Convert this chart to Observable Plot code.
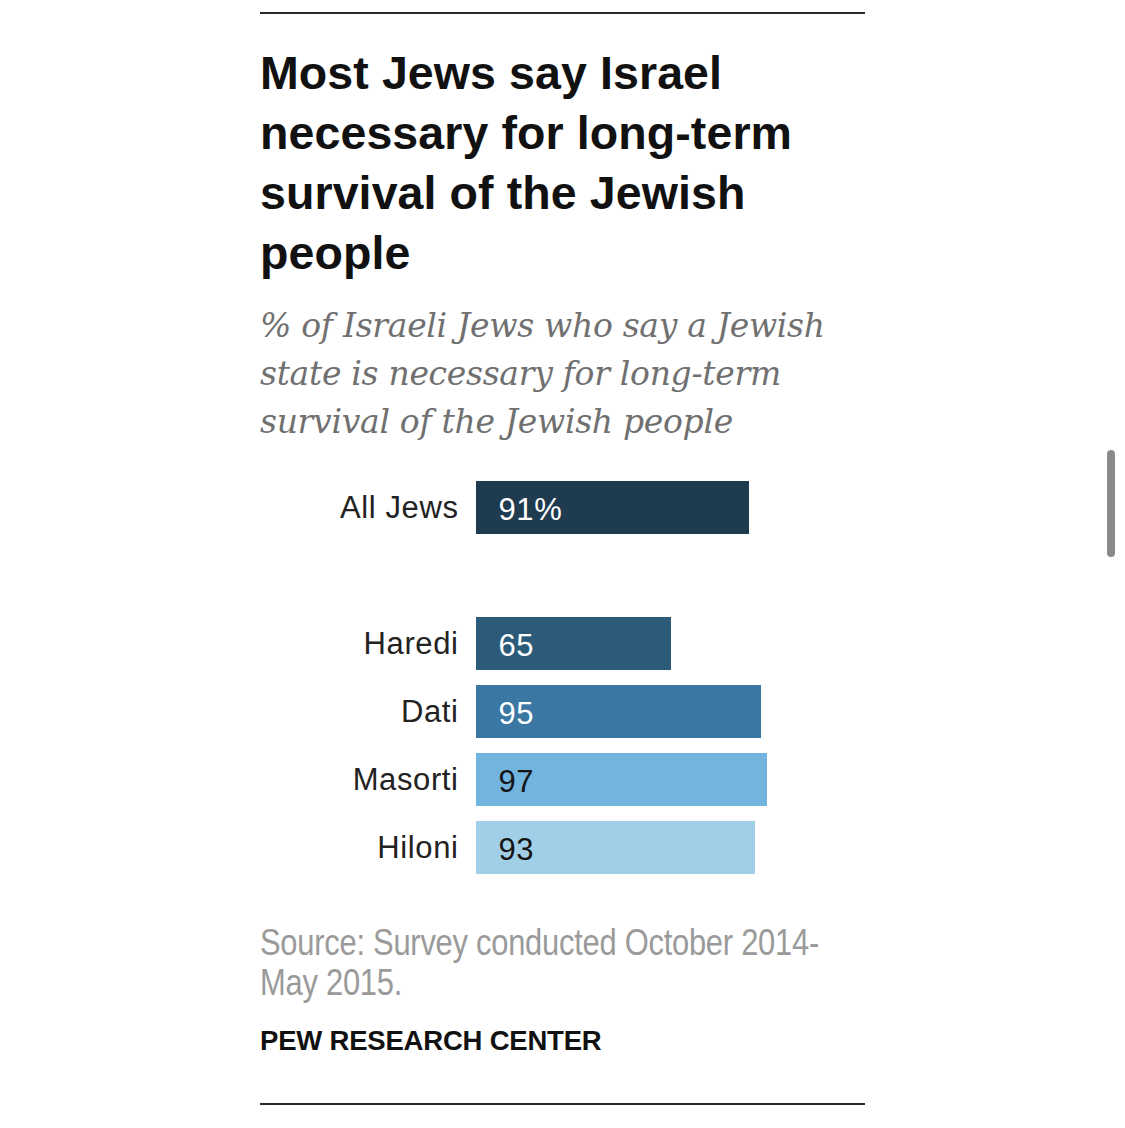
<!DOCTYPE html>
<html>
<head>
<meta charset="utf-8">
<script src="https://cdn.jsdelivr.net/npm/d3@7"></script>
<script src="https://cdn.jsdelivr.net/npm/@observablehq/plot@0.6"></script>
<style>
  html, body { margin: 0; padding: 0; background: #fff; }
  body { width: 1125px; height: 1128px; position: relative; overflow: hidden; }
  #wrap { position: absolute; left: 260px; top: 0; width: 605px; }
  .rule { height: 2px; background: #2a2a2a; }
  #title { margin: 29px 0 0 0; font-family: "Liberation Sans", Arial, sans-serif; font-weight: bold; font-size: 46.5px; line-height: 60px; color: #111; letter-spacing: 0.1px; white-space: nowrap; }
  #subtitle { margin: 19px 0 0 0; font-family: "DejaVu Serif", serif; font-style: italic; font-size: 33px; line-height: 48px; color: #707070; letter-spacing: -0.3px; white-space: nowrap; }
  #chart { margin-top: 8px; height: 435px; }
  #source { margin-top: 34px; width: 740px; transform: scaleX(0.835); transform-origin: left top; white-space: nowrap; font-family: "Liberation Sans", Arial, sans-serif; font-size: 37px; line-height: 40px; color: #9a9a9a; letter-spacing: -0.3px; }
  #credit { margin-top: 22px; font-family: "Liberation Sans", Arial, sans-serif; font-weight: bold; font-size: 27.5px; line-height: 32px; color: #111; letter-spacing: -0.2px; }
  #bottomrule { margin-top: 46px; }
  #scroll { position: absolute; left: 1107px; top: 450px; width: 8px; height: 107px; border-radius: 4px; background: #8a8a8a; }
</style>
</head>
<body>
<div id="wrap">
  <div class="rule" style="margin-top:12px"></div>
  <div id="title">Most Jews say Israel<br>necessary for long-term<br>survival of the Jewish<br>people</div>
  <div id="subtitle">% of Israeli Jews who say a Jewish<br>state is necessary for long-term<br>survival of the Jewish people</div>
  <div id="chart"></div>
  <div id="source">Source: Survey conducted October 2014-<br>May 2015.</div>
  <div id="credit">PEW RESEARCH CENTER</div>
  <div class="rule" id="bottomrule"></div>
</div>
<div id="scroll"></div>
<script>
const groups = ["All Jews", "Haredi", "Dati", "Masorti", "Hiloni"];
const values = [91, 65, 95, 97, 93];
const valueLabels = ["91%", "65", "95", "97", "93"];
const barColors = ["#1f3b4f", "#2c5a79", "#3a77a2", "#71b4de", "#a2cfe8"];
const textColors = ["#ffffff", "#ffffff", "#ffffff", "#151515", "#151515"];
const rowOrder = ["All Jews", "_gap", "Haredi", "Dati", "Masorti", "Hiloni"];

const data = groups.map((g, i) => ({
  group: g, value: values[i], label: valueLabels[i], color: barColors[i], tcolor: textColors[i]
}));

const chart = Plot.plot({
  width: 605,
  height: 435,
  marginLeft: 216,
  marginRight: 89,
  marginTop: 12,
  marginBottom: 0,
  style: { fontFamily: "Liberation Sans, Arial, sans-serif", color: "#222", background: "transparent" },
  x: { domain: [0, 100], axis: null },
  y: { domain: rowOrder, padding: 0.22, axis: null },
  marks: [
    Plot.barX(data, { x: "value", y: "group", fill: "color" }),
    Plot.axisY({
      tickSize: 0, tickPadding: 18, fontSize: 31, label: null,
      tickFormat: d => d.startsWith("_") ? "" : d
    }),
    Plot.text(data, {
      x: 0, y: "group", text: "label", fill: "tcolor",
      textAnchor: "start", dx: 22, dy: 2, fontSize: 31
    })
  ]
});
chart.querySelectorAll("text").forEach(t => t.style.letterSpacing = "0.6px");
document.getElementById("chart").appendChild(chart);
</script>
</body>
</html>
